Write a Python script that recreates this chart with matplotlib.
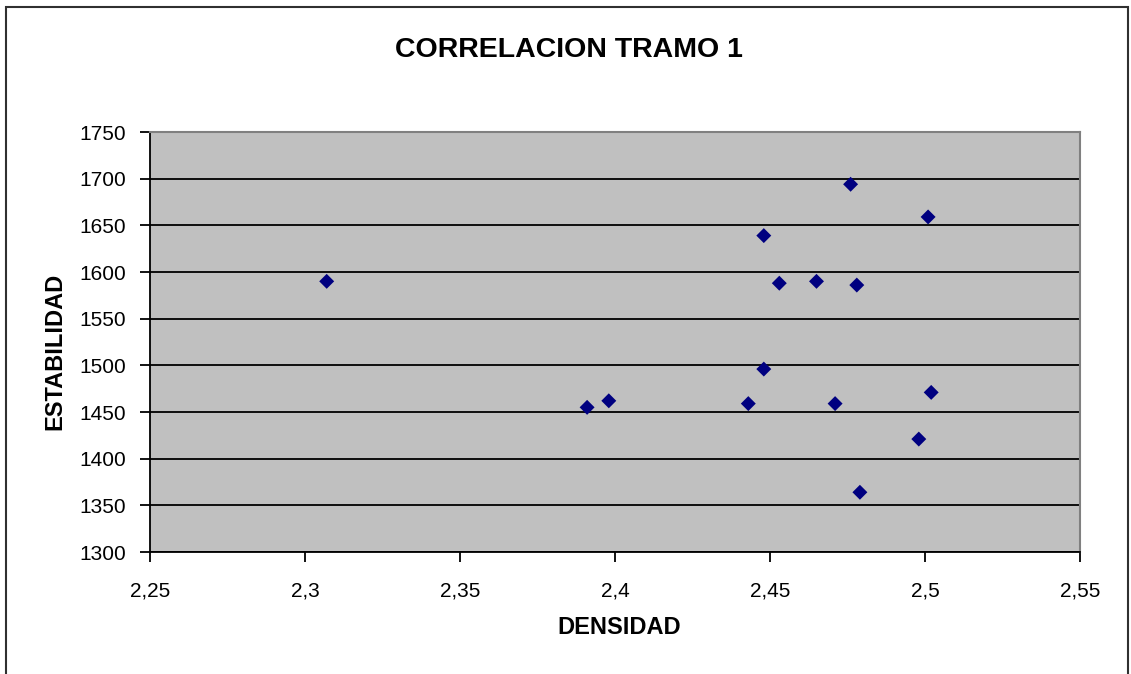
import matplotlib
matplotlib.use("Agg")
import matplotlib.pyplot as plt
from matplotlib.patches import Rectangle
from matplotlib.ticker import FuncFormatter, MultipleLocator

plt.rcParams['font.family'] = ['Liberation Sans', 'DejaVu Sans']

# ensayos del tramo 1: densidad vs estabilidad
densidad = [2.307, 2.391, 2.398, 2.443, 2.448, 2.448, 2.453, 2.465,
            2.471, 2.476, 2.478, 2.479, 2.498, 2.501, 2.502]
estabilidad = [1590, 1455, 1462, 1459, 1639, 1496, 1588, 1590,
               1459, 1694, 1586, 1364, 1421, 1659, 1471]

titulo = "CORRELACION TRAMO 1"
etiqueta_x = "DENSIDAD"
etiqueta_y = "ESTABILIDAD"

W, H = 1131, 674
fig = plt.figure(figsize=(W / 100, H / 100), dpi=100)
ax = fig.add_axes([150 / W, 122 / H, 930 / W, 420 / H])

# marco exterior del grafico
fig.patches.append(Rectangle((6 / W, -0.05), 1122 / W, 1.05 - 7 / H,
                             transform=fig.transFigure, fill=False,
                             edgecolor='#303030', linewidth=1.5, clip_on=False))

ax.set_facecolor('#C0C0C0')
ax.scatter(densidad, estabilidad, marker='D', s=58, color='#000080',
           edgecolors='none', zorder=3)

ax.set_xlim(2.25, 2.55)
ax.set_ylim(1300, 1750)
ax.xaxis.set_major_locator(MultipleLocator(0.05))
ax.yaxis.set_major_locator(MultipleLocator(50))
ax.xaxis.set_major_formatter(FuncFormatter(lambda v, p: f"{v:g}".replace('.', ',')))

ax.set_axisbelow(True)
ax.yaxis.grid(True, color='black', linewidth=1.3)

for lado in ['top', 'right']:
    ax.spines[lado].set_color('#808080')
    ax.spines[lado].set_linewidth(1.5)
for lado in ['left', 'bottom']:
    ax.spines[lado].set_color('black')
    ax.spines[lado].set_linewidth(1.3)

ax.tick_params(direction='out', length=7, width=1.3, labelsize=15)
ax.tick_params(axis='x', pad=14)
ax.tick_params(axis='y', pad=10)

fig.text(0.503, 1 - 50 / H, titulo, ha='center', va='center',
         fontsize=20.5, fontweight='bold')
ax.set_xlabel(etiqueta_x, fontsize=17, fontweight='bold')
ax.set_ylabel(etiqueta_y, fontsize=17, fontweight='bold')
ax.xaxis.set_label_coords(619 / W, 1 - 628 / H, transform=fig.transFigure)
ax.yaxis.set_label_coords(55 / W, 1 - 351 / H, transform=fig.transFigure)
ax.xaxis.label.set_va('center')
ax.yaxis.label.set_va('center')

fig.savefig("out.png", dpi=100, facecolor='white')
